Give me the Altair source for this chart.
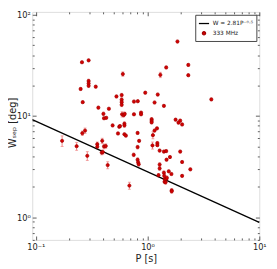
import altair as alt
import pandas as pd

# Pulse period P [s], width W_sep [deg], fractional error on W
P = [0.172, 0.232, 0.289, 0.261, 0.276, 0.252, 0.259, 0.297, 0.297, 0.297,
     0.297, 0.263, 0.344, 0.363, 0.403, 0.408, 0.427, 0.451, 0.487, 0.527,
     0.544, 0.558, 0.567, 0.587, 0.587, 0.587, 0.587, 0.601, 0.592, 0.611,
     0.625, 0.621, 0.621, 0.621, 0.640, 0.393, 0.408, 0.423, 0.389, 0.398,
     0.355, 0.355, 0.440, 0.688, 0.752, 0.756, 0.756, 0.818, 0.815, 0.815,
     0.815, 0.824, 0.834, 0.841, 0.875, 0.875, 0.954, 1.088, 1.088, 1.088,
     1.117, 1.107, 1.156, 1.215, 1.156, 1.234, 1.224, 1.224, 1.283, 1.283,
     1.283, 1.254, 1.302, 1.401, 1.401, 1.401, 1.411, 1.430, 1.420, 1.450,
     1.469, 1.489, 1.469, 1.469, 1.479, 1.587, 1.548, 1.636, 1.645, 1.645,
     1.783, 1.852, 1.891, 1.960, 1.960, 2.039, 2.039, 2.039, 2.316, 2.316,
     2.415, 3.722]
W = [5.68, 5.03, 4.04, 6.76, 7.17, 18.5, 34.0, 35.5, 22.2, 21.0,
     19.9, 13.7, 19.5, 12.1, 10.5, 9.5, 9.6, 11.8, 8.07, 15.6,
     6.72, 7.83, 7.95, 16.1, 14.5, 13.7, 12.9, 26.0, 10.4, 10.2,
     10.5, 8.4, 8.07, 6.6, 6.4, 5.68, 5.0, 5.05, 4.35, 4.4,
     5.27, 4.97, 3.27, 2.05, 4.13, 13.9, 10.4, 14.0, 6.8, 4.93,
     3.7, 3.48, 3.33, 5.68, 10.8, 10.4, 17.0, 9.3, 8.95, 8.64,
     6.47, 5.12, 7.18, 7.55, 13.6, 16.3, 5.4, 5.15, 4.55, 3.31,
     3.03, 2.6, 25.5, 12.6, 4.45, 2.75, 2.56, 2.38, 2.24, 2.21,
     2.38, 2.45, 30.2, 4.5, 3.7, 3.93, 2.84, 2.67, 1.84, 1.8,
     9.2, 54.5, 8.6, 9.0, 4.45, 8.25, 3.51, 2.56, 32.0, 25.3,
     2.97, 14.6]
ERR = [0.12, 0.09, 0.10, 0.05, 0.06, 0.03, 0.03, 0.03, 0.04, 0.04,
       0.04, 0.03, 0.03, 0.03, 0.04, 0.03, 0.03, 0.03, 0.03, 0.03,
       0.03, 0.03, 0.03, 0.04, 0.04, 0.04, 0.04, 0.05, 0.06, 0.04,
       0.04, 0.04, 0.04, 0.03, 0.03, 0.06, 0.05, 0.05, 0.05, 0.05,
       0.05, 0.05, 0.08, 0.08, 0.04, 0.03, 0.03, 0.03, 0.03, 0.04,
       0.04, 0.04, 0.04, 0.03, 0.03, 0.03, 0.03, 0.03, 0.03, 0.03,
       0.08, 0.08, 0.03, 0.03, 0.03, 0.03, 0.03, 0.03, 0.03, 0.04,
       0.04, 0.04, 0.06, 0.03, 0.03, 0.04, 0.04, 0.04, 0.04, 0.04,
       0.04, 0.04, 0.03, 0.03, 0.03, 0.03, 0.03, 0.03, 0.04, 0.04,
       0.03, 0.03, 0.03, 0.03, 0.03, 0.03, 0.03, 0.03, 0.03, 0.03,
       0.03, 0.03]

FIT_LABEL = "W = 2.81P⁻⁰·⁵"
PT_LABEL = "333 MHz"
FIT_A, FIT_B = 2.81, -0.5
LINE_P = [0.093, 10.0]

X_TICKS = [0.1, 0.2, 0.3, 0.4, 0.5, 0.6, 0.7, 0.8, 0.9,
           1, 2, 3, 4, 5, 6, 7, 8, 9, 10]
Y_TICKS = [0.6, 0.7, 0.8, 0.9, 1, 2, 3, 4, 5, 6, 7, 8, 9,
           10, 20, 30, 40, 50, 60, 70, 80, 90, 100]

WD, HT = 234, 235

pts = pd.DataFrame({"P": P, "W": W, "series": PT_LABEL})
pts["lo"] = [w * (1 - e) for w, e in zip(W, ERR)]
pts["hi"] = [w * (1 + e) for w, e in zip(W, ERR)]
caps = pd.DataFrame({"P": P + P, "c": list(pts["lo"]) + list(pts["hi"])})
line = pd.DataFrame({"P": LINE_P, "W": [FIT_A * p ** FIT_B for p in LINE_P]})

xs = alt.Scale(type="log", domain=[0.093, 10], nice=False)
ys = alt.Scale(type="log", domain=[0.596, 107], nice=False)

FONT = "DejaVu Sans"
major = "datum.value == 0.1 || datum.value == 1 || datum.value == 10 || datum.value == 100"
tsize = {"condition": {"test": major, "value": 4}, "value": 2}

def tick_axis(orient, offset):
    return alt.Axis(orient=orient, offset=offset, values=X_TICKS if orient in ("top", "bottom") else Y_TICKS,
                    labels=False, domain=False, grid=False, title=None,
                    tickSize=tsize, tickColor="#333", tickWidth=0.8)

x_lab = alt.Axis(orient="bottom", values=[0.1, 1, 10], ticks=False, domain=False, grid=False,
                 labelExpr="datum.value == 0.1 ? '10⁻¹' : datum.value == 1 ? '10⁰' : '10¹'",
                 labelFont=FONT, labelFontSize=8.5, labelColor="#222", labelPadding=3,
                 labelFlush=False, title="P [s]", titleFont=FONT, titleFontSize=10,
                 titleFontWeight="normal", titleColor="#222", titlePadding=3)
y_lab = alt.Axis(orient="left", values=[1, 10, 100], ticks=False, domain=False, grid=False,
                 labelExpr="datum.value == 1 ? '10⁰' : datum.value == 10 ? '10¹' : '10²'",
                 labelFont=FONT, labelFontSize=8.5, labelColor="#222", labelPadding=2,
                 labelFlush=False, title="Wₛₑₚ [deg]", titleFont=FONT, titleFontSize=10,
                 titleFontWeight="normal", titleColor="#222",
                 titleX=-20, titleY=114, titleAlign="center", titleBaseline="middle", titleAngle=270)

bars = alt.Chart(pts).mark_rule(color="#f08080", strokeWidth=1).encode(
    x=alt.X("P:Q", scale=xs, axis=tick_axis("top", -HT)),
    y=alt.Y("lo:Q", scale=ys, axis=tick_axis("right", -WD)),
    y2="hi:Q",
)
capm = alt.Chart(caps).mark_tick(orient="horizontal", color="#f08080", size=3, thickness=1).encode(
    x=alt.X("P:Q", scale=xs, axis=None),
    y=alt.Y("c:Q", scale=ys, axis=None),
)
fit = alt.Chart(line).mark_line(color="black", strokeWidth=1.3, clip=True).encode(
    x=alt.X("P:Q", scale=xs, axis=tick_axis("bottom", -HT)),
    y=alt.Y("W:Q", scale=ys, axis=tick_axis("left", -WD)),
)
dom = [FIT_LABEL, PT_LABEL]
points = alt.Chart(pts).mark_point(filled=False, fill="#d40000", strokeWidth=0.7, opacity=1).encode(
    x=alt.X("P:Q", scale=xs, axis=x_lab),
    y=alt.Y("W:Q", scale=ys, axis=y_lab),
    color=alt.Color("series:N", scale=alt.Scale(domain=dom, range=["black", "#a00000"]),
                    legend=alt.Legend(title=None, orient="top-right", offset=3, fillColor="white",
                                      strokeColor="#444", padding=3, labelFont=FONT, labelFontSize=6,
                                      labelColor="#222", rowPadding=2, symbolStrokeWidth=1.3,
                                      labelOffset=3)),
    shape=alt.Shape("series:N", scale=alt.Scale(domain=dom, range=["stroke", "circle"])),
    size=alt.Size("series:N", scale=alt.Scale(domain=dom, range=[110, 11])),
)

chart = alt.layer(bars, capm, fit, points).resolve_axis(x="independent", y="independent").properties(
    width=WD, height=HT,
    autosize=alt.AutoSizeParams(type="none"),
    padding={"left": 25, "top": 0, "right": 10, "bottom": 26},
).configure_view(stroke="#333", strokeWidth=1).configure(background="white")

chart.save("out.html", embed_options={"renderer": "svg", "actions": False})
